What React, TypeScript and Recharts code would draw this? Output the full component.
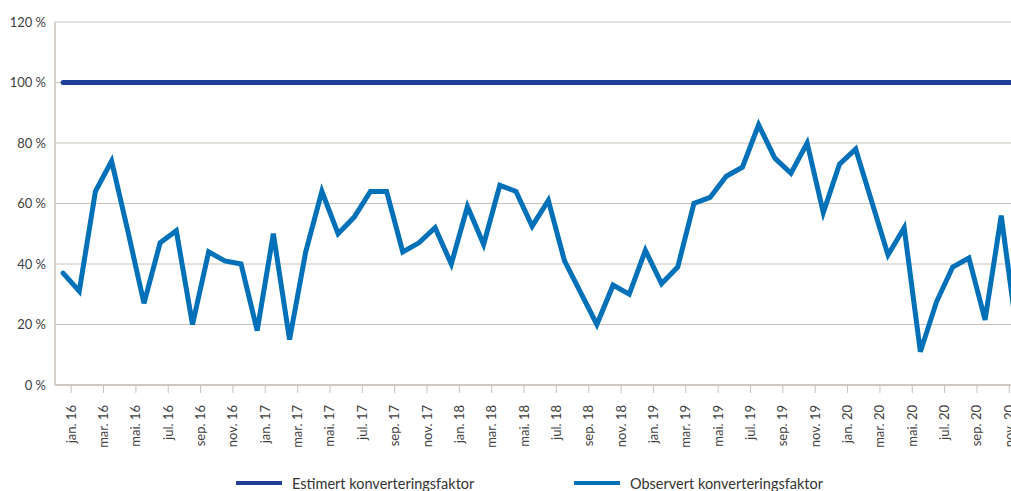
import React from 'react';
import { LineChart, Line, XAxis, YAxis, CartesianGrid } from 'recharts';

// Month labels jan. 16 .. des. 20 (only every second one is shown on the axis)
const MONTHS = ['jan.', 'feb.', 'mar.', 'apr.', 'mai.', 'jun.', 'jul.', 'aug.', 'sep.', 'okt.', 'nov.', 'des.'];
const YEARS = ['16', '17', '18', '19', '20'];

const OBSERVED = [
  37, 31, 64, 74, 51, 27, 47, 51, 20, 44, 41, 40,
  18, 50, 15, 44, 64, 50, 55.5, 64, 64, 44, 47, 52,
  40, 59, 46.5, 66, 64, 52.5, 61, 41, 30.5, 20, 33, 30,
  44.5, 33.5, 39, 60, 62, 69, 72, 86, 75, 70, 80, 57,
  73, 78, 60.5, 43, 52, 11, 27.5, 39, 42, 21.5, 56, 16,
];
const ESTIMATED = OBSERVED.map(() => 100);

const Y_TICKS = [0, 20, 40, 60, 80, 100, 120];
const X_TICKS = OBSERVED.map((_, i) => i + 0.5).filter((_, i) => i % 2 === 0);

const ESTIMATED_COLOR = '#213e96';
const OBSERVED_COLOR = '#0070b8';
const GRID_COLOR = '#c9c1b8';
const TEXT_COLOR = '#404040';
const FONT = 'Lato, "Noto Sans", sans-serif';

const monthLabel = (i: number) => `${MONTHS[i % 12]} ${YEARS[Math.floor(i / 12)]}`;

const chartData = OBSERVED.map((v, i) => ({ x: i, observed: v, estimated: ESTIMATED[i] }));

const MonthTick = (props: any) => {
  const { x, y, payload } = props;
  const idx = Math.floor(payload.value);
  return (
    <text
      transform={`translate(${x + 4.5}, ${y + 10}) rotate(-90)`}
      textAnchor="end"
      fontSize={13}
      fontFamily={FONT}
      fill={TEXT_COLOR}
    >
      {monthLabel(idx)}
    </text>
  );
};

const LegendItem = ({ color, label, left }: { color: string; label: string; left: number }) => (
  <div style={{ position: 'absolute', left, top: 474, display: 'flex', alignItems: 'center', height: 18 }}>
    <div style={{ width: 46, height: 4, background: color, marginRight: 10 }} />
    <span style={{ fontFamily: FONT, fontSize: 14.5, color: '#333' }}>{label}</span>
  </div>
);

export default function App() {
  return (
    <div style={{ position: 'fixed', left: 0, top: 0, width: 1011, height: 491, overflow: 'hidden', background: '#fff' }}>
      <LineChart
        width={1030}
        height={491}
        data={chartData}
        margin={{ top: 22, right: 4.5, bottom: 36, left: 0 }}
      >
        <CartesianGrid vertical={false} stroke={GRID_COLOR} strokeWidth={1.2} />
        <XAxis
          dataKey="x"
          type="number"
          domain={[-0.5, 59.5]}
          ticks={X_TICKS}
          interval={0}
          height={70}
          tick={<MonthTick />}
          tickSize={8}
          tickLine={{ stroke: GRID_COLOR }}
          axisLine={{ stroke: GRID_COLOR, strokeWidth: 1.5 }}
          allowDataOverflow
        />
        <YAxis
          type="number"
          domain={[0, 120]}
          ticks={Y_TICKS}
          width={55}
          tickFormatter={(v: number) => `${v} %`}
          tickLine={false}
          tickMargin={3}
          axisLine={{ stroke: GRID_COLOR, strokeWidth: 1.5 }}
          tick={{ fontSize: 13, fontFamily: FONT, fill: TEXT_COLOR }}
        />
        <Line
          dataKey="estimated"
          stroke={ESTIMATED_COLOR}
          strokeWidth={5}
          strokeLinecap="round"
          dot={false}
          isAnimationActive={false}
        />
        <Line
          dataKey="observed"
          stroke={OBSERVED_COLOR}
          strokeWidth={5}
          strokeLinecap="round"
          dot={false}
          isAnimationActive={false}
        />
      </LineChart>
      <LegendItem color={ESTIMATED_COLOR} label="Estimert konverteringsfaktor" left={236} />
      <LegendItem color={OBSERVED_COLOR} label="Observert konverteringsfaktor" left={574} />
    </div>
  );
}
